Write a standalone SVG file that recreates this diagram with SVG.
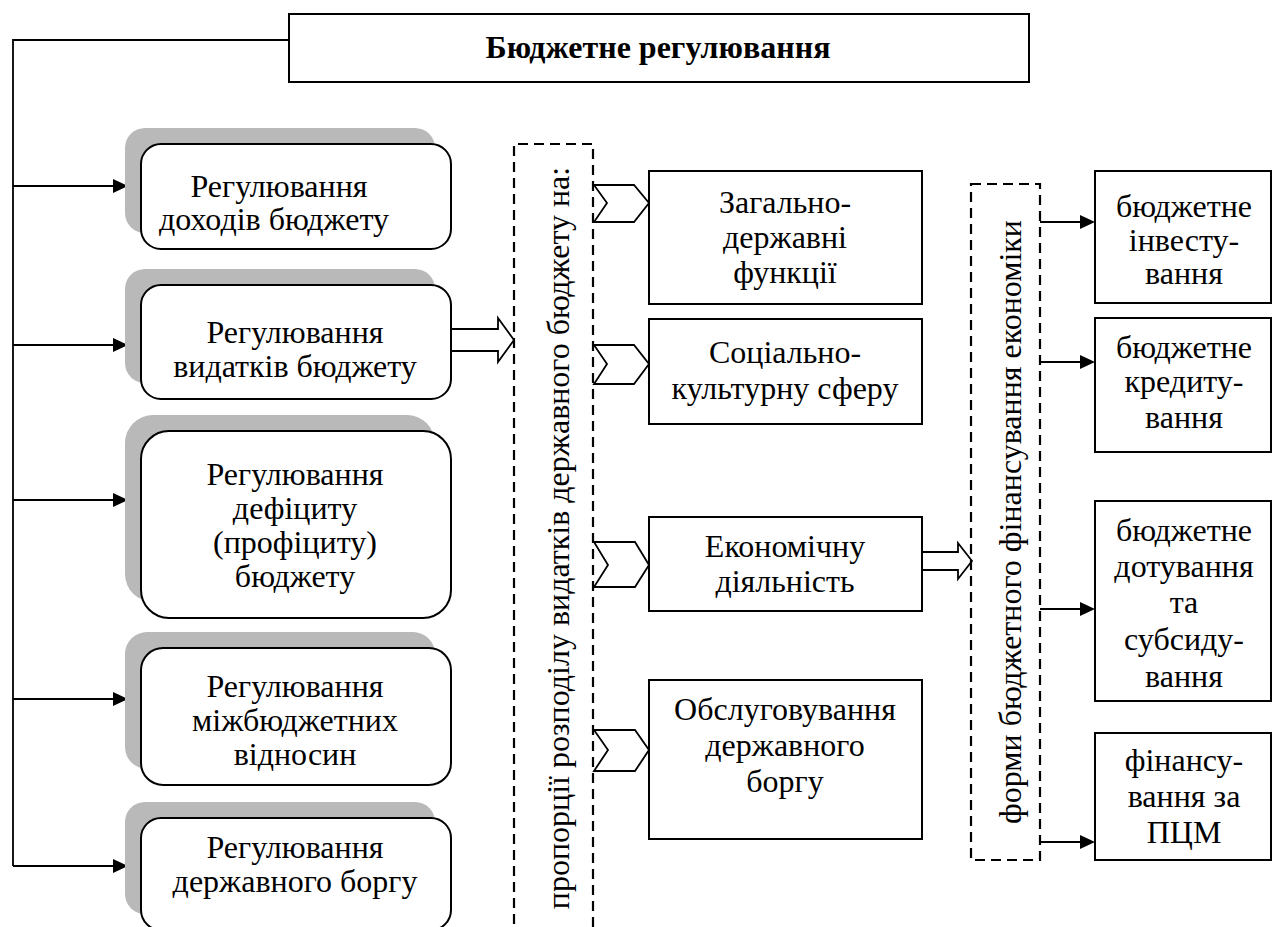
<svg xmlns="http://www.w3.org/2000/svg" width="1273" height="927" viewBox="0 0 1273 927">
<style>
.t{font-family:"Liberation Serif","Times New Roman","DejaVu Serif",serif;font-size:32px;fill:#000;text-anchor:middle}
.b{font-weight:bold;font-size:32px}
.box{fill:#fff;stroke:#000;stroke-width:2}
.rb{fill:#fff;stroke:#000;stroke-width:2}
.sh{fill:#b9b9b9}
.dash{fill:none;stroke:#000;stroke-width:2.2;stroke-dasharray:10 6}
.ln{fill:none;stroke:#000;stroke-width:1.8}
.hd{fill:#000}
.hol{fill:#fff;stroke:#000;stroke-width:1.8;stroke-linejoin:miter}
</style>
<rect width="1273" height="927" fill="#fff"/>

<g id="title">
<rect class="box" x="289" y="14" width="740" height="68" stroke-width="2.4"/>
<text class="t b" x="658" y="58">Бюджетне регулювання</text>
</g>

<g id="connectors">
<polyline class="ln" points="289,40 13,40 13,866"/>
<line class="ln" x1="13" y1="186" x2="114" y2="186"/>
<polygon class="hd" points="113,179 128,186 113,193"/>
<line class="ln" x1="13" y1="345" x2="114" y2="345"/>
<polygon class="hd" points="113,338 128,345 113,352"/>
<line class="ln" x1="13" y1="500" x2="114" y2="500"/>
<polygon class="hd" points="113,493 128,500 113,507"/>
<line class="ln" x1="13" y1="699" x2="114" y2="699"/>
<polygon class="hd" points="113,692 128,699 113,706"/>
<line class="ln" x1="13" y1="866" x2="114" y2="866"/>
<polygon class="hd" points="113,859 128,866 113,873"/>
<path class="hol" d="M451,329 H498 V318 L514,340 L498,362 V351 H451"/>
<polygon class="hol" points="594,185 634,185 649,203 634,222 594,222 607,203"/>
<polygon class="hol" points="594,345 634,345 649,364 634,384 594,384 607,364"/>
<polygon class="hol" points="594,542 635,542 649,565 635,587 594,587 608,565"/>
<polygon class="hol" points="594,730 635,730 649,750 635,771 594,771 608,750"/>
<path class="hol" d="M922,552 H958 V543 L972,561 L958,579 V570 H922"/>
<line class="ln" x1="1040" y1="222" x2="1081" y2="222"/>
<polygon class="hd" points="1080,215 1095,222 1080,229"/>
<line class="ln" x1="1040" y1="362" x2="1081" y2="362"/>
<polygon class="hd" points="1080,355 1095,362 1080,369"/>
<line class="ln" x1="1040" y1="609" x2="1081" y2="609"/>
<polygon class="hd" points="1080,602 1095,609 1080,616"/>
<line class="ln" x1="1040" y1="842" x2="1081" y2="842"/>
<polygon class="hd" points="1080,835 1095,842 1080,849"/>
</g>

<g id="reg-dohody">
<rect class="sh" x="125" y="128" width="310" height="105" rx="20"/>
<rect class="box" x="141" y="144" width="310" height="105" rx="20"/>
<text class="t" x="279" y="197">Регулювання</text>
<text class="t" x="274" y="230">доходів бюджету</text>
</g>

<g id="reg-vydatky">
<rect class="sh" x="125" y="269" width="310" height="114" rx="20"/>
<rect class="box" x="141" y="285" width="310" height="114" rx="20"/>
<text class="t" x="295" y="343">Регулювання</text>
<text class="t" x="295" y="377">видатків бюджету</text>
</g>

<g id="reg-deficit">
<rect class="sh" x="125" y="415" width="310" height="187" rx="28"/>
<rect class="box" x="141" y="431" width="310" height="187" rx="28"/>
<text class="t" x="295" y="485">Регулювання</text>
<text class="t" x="295" y="519">дефіциту</text>
<text class="t" x="295" y="553">(профіциту)</text>
<text class="t" x="295" y="587">бюджету</text>
</g>

<g id="reg-mizhbudget">
<rect class="sh" x="125" y="632" width="310" height="137" rx="22"/>
<rect class="box" x="141" y="648" width="310" height="137" rx="22"/>
<text class="t" x="295" y="697">Регулювання</text>
<text class="t" x="295" y="731">міжбюджетних</text>
<text class="t" x="295" y="765">відносин</text>
</g>

<g id="reg-borg">
<rect class="sh" x="125" y="802" width="310" height="112" rx="20"/>
<rect class="box" x="141" y="818" width="310" height="112" rx="20"/>
<text class="t" x="295" y="858">Регулювання</text>
<text class="t" x="295" y="892">державного боргу</text>
</g>

<g id="proportions">
<path class="dash" d="M514,940 V144 H593 V940"/>
<text class="t" transform="translate(569,538) rotate(-90)" x="0" y="0">пропорції розподілу видатків державного бюджету на:</text>
</g>

<g id="zagalno">
<rect class="box" x="649" y="171" width="273" height="133"/>
<text class="t" x="785" y="213">Загально-</text>
<text class="t" x="785" y="248">державні</text>
<text class="t" x="785" y="283">функції</text>
</g>

<g id="socialno">
<rect class="box" x="649" y="319" width="273" height="105"/>
<text class="t" x="785" y="363">Соціально-</text>
<text class="t" x="785" y="399">культурну сферу</text>
</g>

<g id="ekonomichna">
<rect class="box" x="649" y="517" width="273" height="94"/>
<text class="t" x="785" y="557">Економічну</text>
<text class="t" x="785" y="592">діяльність</text>
</g>

<g id="obslugovuvannia">
<rect class="box" x="649" y="680" width="273" height="159"/>
<text class="t" x="785" y="720">Обслуговування</text>
<text class="t" x="785" y="756">державного</text>
<text class="t" x="785" y="792">боргу</text>
</g>

<g id="formy">
<rect class="dash" x="971" y="184" width="69" height="676"/>
<text class="t" transform="translate(1021,522) rotate(-90)" x="0" y="0">форми бюджетного фінансування економіки</text>
</g>

<g id="investuvannia">
<rect class="rb" x="1095" y="171" width="176" height="132"/>
<text class="t" x="1184" y="217">бюджетне</text>
<text class="t" x="1184" y="251">інвесту-</text>
<text class="t" x="1184" y="284">вання</text>
</g>

<g id="kredytuvannia">
<rect class="rb" x="1095" y="318" width="176" height="134"/>
<text class="t" x="1184" y="358">бюджетне</text>
<text class="t" x="1184" y="392">кредиту-</text>
<text class="t" x="1184" y="428">вання</text>
</g>

<g id="dotuvannia">
<rect class="rb" x="1095" y="501" width="176" height="200"/>
<text class="t" x="1184" y="541">бюджетне</text>
<text class="t" x="1184" y="577">дотування</text>
<text class="t" x="1184" y="613">та</text>
<text class="t" x="1184" y="650">субсиду-</text>
<text class="t" x="1184" y="687">вання</text>
</g>

<g id="pcm">
<rect class="rb" x="1095" y="733" width="176" height="127"/>
<text class="t" x="1184" y="771">фінансу-</text>
<text class="t" x="1184" y="807">вання за</text>
<text class="t" x="1184" y="843">ПЦМ</text>
</g>
</svg>
